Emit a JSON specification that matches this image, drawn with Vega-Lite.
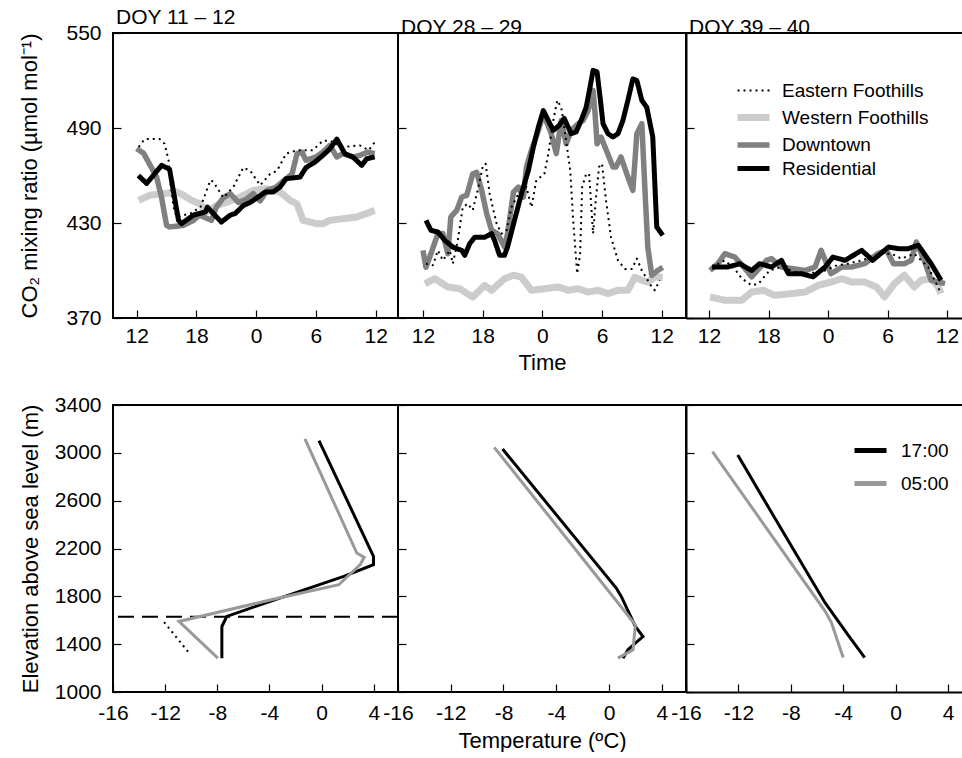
{
  "$schema": "https://vega.github.io/schema/vega-lite/v6.json",
  "padding": {"left": 17, "top": 6, "right": 0, "bottom": 0},
  "config": {
    "font": "Liberation Sans",
    "view": {"stroke": "black", "strokeWidth": 2},
    "axis": {"labelFont": "Liberation Sans", "labelFontSize": 21, "labelColor": "black", "tickColor": "black", "tickSize": -8, "tickWidth": 1.2, "domain": false, "grid": false, "labelPadding": 20, "titleFont": "Liberation Sans", "titleFontSize": 22, "titleFontWeight": "normal", "titleColor": "black", "labelFlush": false, "labelOverlap": false, "labelExpr": "'' + datum.value"},
    "axisX": {"labelPadding": 17},
    "legend": {"labelFont": "Liberation Sans", "labelFontSize": 19, "labelColor": "black", "padding": 0},
    "title": {"font": "Liberation Sans", "fontSize": 21, "fontWeight": "normal", "color": "black", "anchor": "start", "frame": "group", "offset": -6}
  },
  "datasets": {
    "co2": [
      {"panel":"A","site":"Western Foothills","hour":0.2,"co2":444.3},{"panel":"A","site":"Western Foothills","hour":1.3,"co2":447.5},{"panel":"A","site":"Western Foothills","hour":2.7,"co2":448.5},{"panel":"A","site":"Western Foothills","hour":4,"co2":449.6},{"panel":"A","site":"Western Foothills","hour":4.7,"co2":447.5},{"panel":"A","site":"Western Foothills","hour":5.5,"co2":444.3},{"panel":"A","site":"Western Foothills","hour":6.4,"co2":442},{"panel":"A","site":"Western Foothills","hour":7,"co2":437},{"panel":"A","site":"Western Foothills","hour":8,"co2":441},{"panel":"A","site":"Western Foothills","hour":9,"co2":443},{"panel":"A","site":"Western Foothills","hour":10.4,"co2":446.4},{"panel":"A","site":"Western Foothills","hour":11.7,"co2":450.6},{"panel":"A","site":"Western Foothills","hour":13,"co2":451.7},{"panel":"A","site":"Western Foothills","hour":14.4,"co2":449.6},{"panel":"A","site":"Western Foothills","hour":15.4,"co2":444.3},{"panel":"A","site":"Western Foothills","hour":16.1,"co2":442},{"panel":"A","site":"Western Foothills","hour":16.7,"co2":431.7},{"panel":"A","site":"Western Foothills","hour":18,"co2":429.6},{"panel":"A","site":"Western Foothills","hour":18.7,"co2":429.6},{"panel":"A","site":"Western Foothills","hour":19.4,"co2":431.7},{"panel":"A","site":"Western Foothills","hour":20.7,"co2":432.7},{"panel":"A","site":"Western Foothills","hour":22.1,"co2":433.8},{"panel":"A","site":"Western Foothills","hour":23.1,"co2":436},{"panel":"A","site":"Western Foothills","hour":23.9,"co2":438},
      {"panel":"A","site":"Downtown","hour":0,"co2":477},{"panel":"A","site":"Downtown","hour":0.7,"co2":474},{"panel":"A","site":"Downtown","hour":2,"co2":459},{"panel":"A","site":"Downtown","hour":2.5,"co2":446},{"panel":"A","site":"Downtown","hour":3,"co2":428.5},{"panel":"A","site":"Downtown","hour":3.3,"co2":427.5},{"panel":"A","site":"Downtown","hour":4.7,"co2":428.5},{"panel":"A","site":"Downtown","hour":5.7,"co2":431.7},{"panel":"A","site":"Downtown","hour":6.3,"co2":435},{"panel":"A","site":"Downtown","hour":7.5,"co2":431.7},{"panel":"A","site":"Downtown","hour":8,"co2":440},{"panel":"A","site":"Downtown","hour":8.7,"co2":446},{"panel":"A","site":"Downtown","hour":9.4,"co2":448.5},{"panel":"A","site":"Downtown","hour":10.2,"co2":443},{"panel":"A","site":"Downtown","hour":11,"co2":445},{"panel":"A","site":"Downtown","hour":11.7,"co2":448.5},{"panel":"A","site":"Downtown","hour":12.4,"co2":444},{"panel":"A","site":"Downtown","hour":13.1,"co2":450.6},{"panel":"A","site":"Downtown","hour":14,"co2":452.7},{"panel":"A","site":"Downtown","hour":15.6,"co2":461},{"panel":"A","site":"Downtown","hour":16.1,"co2":473.8},{"panel":"A","site":"Downtown","hour":16.6,"co2":474.8},{"panel":"A","site":"Downtown","hour":17,"co2":469.6},{"panel":"A","site":"Downtown","hour":18,"co2":471.7},{"panel":"A","site":"Downtown","hour":18.7,"co2":474.8},{"panel":"A","site":"Downtown","hour":19.4,"co2":479},{"panel":"A","site":"Downtown","hour":20.1,"co2":471.7},{"panel":"A","site":"Downtown","hour":20.7,"co2":473.8},{"panel":"A","site":"Downtown","hour":21.7,"co2":471.7},{"panel":"A","site":"Downtown","hour":22.4,"co2":472.7},{"panel":"A","site":"Downtown","hour":23.2,"co2":474.8},{"panel":"A","site":"Downtown","hour":23.9,"co2":473.8},
      {"panel":"A","site":"Eastern Foothills","hour":0.2,"co2":478},{"panel":"A","site":"Eastern Foothills","hour":0.8,"co2":483},{"panel":"A","site":"Eastern Foothills","hour":2.3,"co2":483},{"panel":"A","site":"Eastern Foothills","hour":2.8,"co2":480},{"panel":"A","site":"Eastern Foothills","hour":3.2,"co2":469.6},{"panel":"A","site":"Eastern Foothills","hour":3.35,"co2":457},{"panel":"A","site":"Eastern Foothills","hour":3.7,"co2":440},{"panel":"A","site":"Eastern Foothills","hour":4,"co2":433.8},{"panel":"A","site":"Eastern Foothills","hour":5.4,"co2":436},{"panel":"A","site":"Eastern Foothills","hour":6.4,"co2":440},{"panel":"A","site":"Eastern Foothills","hour":7.4,"co2":457},{"panel":"A","site":"Eastern Foothills","hour":7.7,"co2":456},{"panel":"A","site":"Eastern Foothills","hour":8.7,"co2":446},{"panel":"A","site":"Eastern Foothills","hour":9.7,"co2":452.7},{"panel":"A","site":"Eastern Foothills","hour":10.7,"co2":465},{"panel":"A","site":"Eastern Foothills","hour":11.4,"co2":463},{"panel":"A","site":"Eastern Foothills","hour":12.4,"co2":453.8},{"panel":"A","site":"Eastern Foothills","hour":13.4,"co2":461},{"panel":"A","site":"Eastern Foothills","hour":14.1,"co2":463},{"panel":"A","site":"Eastern Foothills","hour":15,"co2":473.8},{"panel":"A","site":"Eastern Foothills","hour":16.1,"co2":476},{"panel":"A","site":"Eastern Foothills","hour":17.7,"co2":476},{"panel":"A","site":"Eastern Foothills","hour":18.7,"co2":482},{"panel":"A","site":"Eastern Foothills","hour":19.4,"co2":482},{"panel":"A","site":"Eastern Foothills","hour":20.7,"co2":478},{"panel":"A","site":"Eastern Foothills","hour":22.4,"co2":479},{"panel":"A","site":"Eastern Foothills","hour":23.3,"co2":476},{"panel":"A","site":"Eastern Foothills","hour":23.9,"co2":481},
      {"panel":"A","site":"Residential","hour":0.17,"co2":460},{"panel":"A","site":"Residential","hour":1,"co2":455},{"panel":"A","site":"Residential","hour":2.5,"co2":466.4},{"panel":"A","site":"Residential","hour":3.3,"co2":464},{"panel":"A","site":"Residential","hour":4.2,"co2":431.7},{"panel":"A","site":"Residential","hour":4.5,"co2":429.6},{"panel":"A","site":"Residential","hour":5.7,"co2":435},{"panel":"A","site":"Residential","hour":6.9,"co2":437},{"panel":"A","site":"Residential","hour":7.1,"co2":440},{"panel":"A","site":"Residential","hour":8.5,"co2":430.6},{"panel":"A","site":"Residential","hour":9.4,"co2":435},{"panel":"A","site":"Residential","hour":9.9,"co2":436},{"panel":"A","site":"Residential","hour":10.7,"co2":441},{"panel":"A","site":"Residential","hour":11.4,"co2":443},{"panel":"A","site":"Residential","hour":12.1,"co2":446},{"panel":"A","site":"Residential","hour":12.9,"co2":449.6},{"panel":"A","site":"Residential","hour":13.7,"co2":449.6},{"panel":"A","site":"Residential","hour":14.4,"co2":452.7},{"panel":"A","site":"Residential","hour":15,"co2":458},{"panel":"A","site":"Residential","hour":16.4,"co2":459},{"panel":"A","site":"Residential","hour":17,"co2":465},{"panel":"A","site":"Residential","hour":17.9,"co2":468.5},{"panel":"A","site":"Residential","hour":18.7,"co2":472.7},{"panel":"A","site":"Residential","hour":19.4,"co2":476.8},{"panel":"A","site":"Residential","hour":20.1,"co2":483},{"panel":"A","site":"Residential","hour":20.9,"co2":473.8},{"panel":"A","site":"Residential","hour":21.7,"co2":471.7},{"panel":"A","site":"Residential","hour":22.6,"co2":466.4},{"panel":"A","site":"Residential","hour":23.1,"co2":470.6},{"panel":"A","site":"Residential","hour":23.9,"co2":471.7},

      {"panel":"B","site":"Western Foothills","hour":0.2,"co2":391.7},{"panel":"B","site":"Western Foothills","hour":1.2,"co2":394.8},{"panel":"B","site":"Western Foothills","hour":2.5,"co2":389.6},{"panel":"B","site":"Western Foothills","hour":3.7,"co2":388.5},{"panel":"B","site":"Western Foothills","hour":5,"co2":383.2},{"panel":"B","site":"Western Foothills","hour":6.2,"co2":390.6},{"panel":"B","site":"Western Foothills","hour":6.9,"co2":387.5},{"panel":"B","site":"Western Foothills","hour":8.2,"co2":394.8},{"panel":"B","site":"Western Foothills","hour":9.1,"co2":397},{"panel":"B","site":"Western Foothills","hour":9.9,"co2":395.8},{"panel":"B","site":"Western Foothills","hour":10.9,"co2":387.5},{"panel":"B","site":"Western Foothills","hour":12.2,"co2":388.5},{"panel":"B","site":"Western Foothills","hour":13.6,"co2":389.6},{"panel":"B","site":"Western Foothills","hour":14.6,"co2":387.5},{"panel":"B","site":"Western Foothills","hour":15.6,"co2":388.5},{"panel":"B","site":"Western Foothills","hour":16.6,"co2":386.4},{"panel":"B","site":"Western Foothills","hour":17.6,"co2":387.5},{"panel":"B","site":"Western Foothills","hour":18.6,"co2":385.4},{"panel":"B","site":"Western Foothills","hour":19.6,"co2":387.5},{"panel":"B","site":"Western Foothills","hour":20.6,"co2":387.5},{"panel":"B","site":"Western Foothills","hour":21.3,"co2":395.8},{"panel":"B","site":"Western Foothills","hour":22,"co2":393.8},{"panel":"B","site":"Western Foothills","hour":22.6,"co2":392.7},{"panel":"B","site":"Western Foothills","hour":23.3,"co2":395.8},{"panel":"B","site":"Western Foothills","hour":24.1,"co2":395.8},
      {"panel":"B","site":"Downtown","hour":0,"co2":412.7},{"panel":"B","site":"Downtown","hour":0.3,"co2":402},{"panel":"B","site":"Downtown","hour":0.8,"co2":410.6},{"panel":"B","site":"Downtown","hour":1.5,"co2":423.3},{"panel":"B","site":"Downtown","hour":2,"co2":423.3},{"panel":"B","site":"Downtown","hour":2.5,"co2":410.6},{"panel":"B","site":"Downtown","hour":2.8,"co2":433.8},{"panel":"B","site":"Downtown","hour":3.4,"co2":438},{"panel":"B","site":"Downtown","hour":3.9,"co2":446.4},{"panel":"B","site":"Downtown","hour":4.4,"co2":447.5},{"panel":"B","site":"Downtown","hour":5,"co2":461},{"panel":"B","site":"Downtown","hour":5.4,"co2":462},{"panel":"B","site":"Downtown","hour":5.9,"co2":450.6},{"panel":"B","site":"Downtown","hour":6.4,"co2":436},{"panel":"B","site":"Downtown","hour":6.9,"co2":425.4},{"panel":"B","site":"Downtown","hour":7.5,"co2":423.3},{"panel":"B","site":"Downtown","hour":8.2,"co2":414.8},{"panel":"B","site":"Downtown","hour":8.5,"co2":423.3},{"panel":"B","site":"Downtown","hour":9.1,"co2":449.6},{"panel":"B","site":"Downtown","hour":9.6,"co2":452.7},{"panel":"B","site":"Downtown","hour":10.1,"co2":446.4},{"panel":"B","site":"Downtown","hour":10.4,"co2":465.4},{"panel":"B","site":"Downtown","hour":10.9,"co2":475.9},{"panel":"B","site":"Downtown","hour":11.6,"co2":488.5},{"panel":"B","site":"Downtown","hour":12.1,"co2":499},{"panel":"B","site":"Downtown","hour":12.9,"co2":486.4},{"panel":"B","site":"Downtown","hour":13.4,"co2":473.8},{"panel":"B","site":"Downtown","hour":13.9,"co2":494.8},{"panel":"B","site":"Downtown","hour":14.4,"co2":480},{"panel":"B","site":"Downtown","hour":14.9,"co2":488.5},{"panel":"B","site":"Downtown","hour":15.6,"co2":492.7},{"panel":"B","site":"Downtown","hour":16.1,"co2":494.8},{"panel":"B","site":"Downtown","hour":16.6,"co2":501},{"panel":"B","site":"Downtown","hour":17.1,"co2":513.8},{"panel":"B","site":"Downtown","hour":17.3,"co2":499},{"panel":"B","site":"Downtown","hour":17.5,"co2":480},{"panel":"B","site":"Downtown","hour":17.9,"co2":484.3},{"panel":"B","site":"Downtown","hour":19.1,"co2":465.4},{"panel":"B","site":"Downtown","hour":19.4,"co2":465.4},{"panel":"B","site":"Downtown","hour":19.9,"co2":471.7},{"panel":"B","site":"Downtown","hour":20.6,"co2":459},{"panel":"B","site":"Downtown","hour":21.1,"co2":450.6},{"panel":"B","site":"Downtown","hour":21.5,"co2":486.4},{"panel":"B","site":"Downtown","hour":22,"co2":492.7},{"panel":"B","site":"Downtown","hour":22.3,"co2":452.7},{"panel":"B","site":"Downtown","hour":22.6,"co2":414.8},{"panel":"B","site":"Downtown","hour":23,"co2":397},{"panel":"B","site":"Downtown","hour":23.6,"co2":400},{"panel":"B","site":"Downtown","hour":24.1,"co2":402},
      {"panel":"B","site":"Eastern Foothills","hour":0.3,"co2":404.3},{"panel":"B","site":"Eastern Foothills","hour":1,"co2":403.3},{"panel":"B","site":"Eastern Foothills","hour":1.5,"co2":412.7},{"panel":"B","site":"Eastern Foothills","hour":2,"co2":406.4},{"panel":"B","site":"Eastern Foothills","hour":2.7,"co2":412.7},{"panel":"B","site":"Eastern Foothills","hour":3,"co2":404.3},{"panel":"B","site":"Eastern Foothills","hour":3.5,"co2":419},{"panel":"B","site":"Eastern Foothills","hour":4,"co2":440},{"panel":"B","site":"Eastern Foothills","hour":4.5,"co2":442.2},{"panel":"B","site":"Eastern Foothills","hour":5,"co2":438},{"panel":"B","site":"Eastern Foothills","hour":5.5,"co2":450.6},{"panel":"B","site":"Eastern Foothills","hour":6,"co2":465.4},{"panel":"B","site":"Eastern Foothills","hour":6.3,"co2":467.5},{"panel":"B","site":"Eastern Foothills","hour":6.7,"co2":448.5},{"panel":"B","site":"Eastern Foothills","hour":7.4,"co2":429.6},{"panel":"B","site":"Eastern Foothills","hour":7.9,"co2":423.3},{"panel":"B","site":"Eastern Foothills","hour":8.4,"co2":425.4},{"panel":"B","site":"Eastern Foothills","hour":8.9,"co2":440},{"panel":"B","site":"Eastern Foothills","hour":9.6,"co2":448.5},{"panel":"B","site":"Eastern Foothills","hour":10.4,"co2":452.7},{"panel":"B","site":"Eastern Foothills","hour":10.9,"co2":440},{"panel":"B","site":"Eastern Foothills","hour":11.4,"co2":457},{"panel":"B","site":"Eastern Foothills","hour":12.2,"co2":461},{"panel":"B","site":"Eastern Foothills","hour":12.6,"co2":473.8},{"panel":"B","site":"Eastern Foothills","hour":13.1,"co2":494.8},{"panel":"B","site":"Eastern Foothills","hour":13.5,"co2":507.5},{"panel":"B","site":"Eastern Foothills","hour":13.9,"co2":503},{"panel":"B","site":"Eastern Foothills","hour":14.2,"co2":490.6},{"panel":"B","site":"Eastern Foothills","hour":14.8,"co2":463.3},{"panel":"B","site":"Eastern Foothills","hour":15.1,"co2":431.7},{"panel":"B","site":"Eastern Foothills","hour":15.5,"co2":398},{"panel":"B","site":"Eastern Foothills","hour":15.8,"co2":410.6},{"panel":"B","site":"Eastern Foothills","hour":16,"co2":452.7},{"panel":"B","site":"Eastern Foothills","hour":16.4,"co2":461},{"panel":"B","site":"Eastern Foothills","hour":16.7,"co2":461},{"panel":"B","site":"Eastern Foothills","hour":16.9,"co2":442.2},{"panel":"B","site":"Eastern Foothills","hour":17.1,"co2":423.3},{"panel":"B","site":"Eastern Foothills","hour":17.4,"co2":446.4},{"panel":"B","site":"Eastern Foothills","hour":17.7,"co2":465.4},{"panel":"B","site":"Eastern Foothills","hour":18,"co2":467.5},{"panel":"B","site":"Eastern Foothills","hour":18.4,"co2":444.3},{"panel":"B","site":"Eastern Foothills","hour":18.9,"co2":421},{"panel":"B","site":"Eastern Foothills","hour":19.6,"co2":406.4},{"panel":"B","site":"Eastern Foothills","hour":20.3,"co2":401},{"panel":"B","site":"Eastern Foothills","hour":21,"co2":401},{"panel":"B","site":"Eastern Foothills","hour":21.5,"co2":407.5},{"panel":"B","site":"Eastern Foothills","hour":22,"co2":400},{"panel":"B","site":"Eastern Foothills","hour":23,"co2":389.6},{"panel":"B","site":"Eastern Foothills","hour":23.3,"co2":387.5},{"panel":"B","site":"Eastern Foothills","hour":23.8,"co2":393.8},
      {"panel":"B","site":"Residential","hour":0.3,"co2":431.7},{"panel":"B","site":"Residential","hour":0.8,"co2":425.4},{"panel":"B","site":"Residential","hour":1.5,"co2":424.3},{"panel":"B","site":"Residential","hour":2.2,"co2":419},{"panel":"B","site":"Residential","hour":3,"co2":414.8},{"panel":"B","site":"Residential","hour":3.9,"co2":412.7},{"panel":"B","site":"Residential","hour":4.2,"co2":409.6},{"panel":"B","site":"Residential","hour":4.7,"co2":417},{"panel":"B","site":"Residential","hour":5.2,"co2":421},{"panel":"B","site":"Residential","hour":6.2,"co2":421},{"panel":"B","site":"Residential","hour":6.9,"co2":423.3},{"panel":"B","site":"Residential","hour":7.2,"co2":419},{"panel":"B","site":"Residential","hour":7.7,"co2":409.6},{"panel":"B","site":"Residential","hour":8.2,"co2":409.6},{"panel":"B","site":"Residential","hour":8.5,"co2":414.8},{"panel":"B","site":"Residential","hour":9.2,"co2":431.7},{"panel":"B","site":"Residential","hour":9.9,"co2":448.5},{"panel":"B","site":"Residential","hour":10.6,"co2":463.3},{"panel":"B","site":"Residential","hour":11.1,"co2":478},{"panel":"B","site":"Residential","hour":11.6,"co2":490.6},{"panel":"B","site":"Residential","hour":12.1,"co2":501},{"panel":"B","site":"Residential","hour":12.6,"co2":494.7},{"panel":"B","site":"Residential","hour":13.1,"co2":488.5},{"panel":"B","site":"Residential","hour":13.7,"co2":491.7},{"panel":"B","site":"Residential","hour":14.2,"co2":496},{"panel":"B","site":"Residential","hour":14.9,"co2":486.4},{"panel":"B","site":"Residential","hour":15.4,"co2":487.5},{"panel":"B","site":"Residential","hour":15.9,"co2":494.8},{"panel":"B","site":"Residential","hour":16.4,"co2":503},{"panel":"B","site":"Residential","hour":16.8,"co2":516},{"panel":"B","site":"Residential","hour":17.1,"co2":526.4},{"panel":"B","site":"Residential","hour":17.5,"co2":525.4},{"panel":"B","site":"Residential","hour":17.8,"co2":509.6},{"panel":"B","site":"Residential","hour":18.1,"co2":492.7},{"panel":"B","site":"Residential","hour":18.6,"co2":486.4},{"panel":"B","site":"Residential","hour":19.1,"co2":484.3},{"panel":"B","site":"Residential","hour":19.6,"co2":486.4},{"panel":"B","site":"Residential","hour":20.1,"co2":494.8},{"panel":"B","site":"Residential","hour":20.6,"co2":507.5},{"panel":"B","site":"Residential","hour":21.1,"co2":521},{"panel":"B","site":"Residential","hour":21.5,"co2":520},{"panel":"B","site":"Residential","hour":22,"co2":507.5},{"panel":"B","site":"Residential","hour":22.5,"co2":503},{"panel":"B","site":"Residential","hour":23.1,"co2":484.3},{"panel":"B","site":"Residential","hour":23.5,"co2":427.5},{"panel":"B","site":"Residential","hour":24.1,"co2":422.2},

      {"panel":"C","site":"Western Foothills","hour":0.1,"co2":383.3},{"panel":"C","site":"Western Foothills","hour":1.6,"co2":381.2},{"panel":"C","site":"Western Foothills","hour":3.3,"co2":381.2},{"panel":"C","site":"Western Foothills","hour":4.3,"co2":386.4},{"panel":"C","site":"Western Foothills","hour":5.5,"co2":387.5},{"panel":"C","site":"Western Foothills","hour":6.6,"co2":384.3},{"panel":"C","site":"Western Foothills","hour":8.3,"co2":385.4},{"panel":"C","site":"Western Foothills","hour":9.7,"co2":386.4},{"panel":"C","site":"Western Foothills","hour":11,"co2":390.6},{"panel":"C","site":"Western Foothills","hour":12.3,"co2":392.7},{"panel":"C","site":"Western Foothills","hour":13.4,"co2":394.8},{"panel":"C","site":"Western Foothills","hour":14.4,"co2":392.7},{"panel":"C","site":"Western Foothills","hour":15.7,"co2":392.7},{"panel":"C","site":"Western Foothills","hour":16.9,"co2":389.6},{"panel":"C","site":"Western Foothills","hour":17.7,"co2":383.3},{"panel":"C","site":"Western Foothills","hour":18.7,"co2":391.7},{"panel":"C","site":"Western Foothills","hour":19.7,"co2":397},{"panel":"C","site":"Western Foothills","hour":20.7,"co2":389.6},{"panel":"C","site":"Western Foothills","hour":21.4,"co2":393.8},{"panel":"C","site":"Western Foothills","hour":22.4,"co2":394.8},{"panel":"C","site":"Western Foothills","hour":23.1,"co2":389.6},{"panel":"C","site":"Western Foothills","hour":23.4,"co2":385.4},
      {"panel":"C","site":"Downtown","hour":0.1,"co2":400},{"panel":"C","site":"Downtown","hour":0.9,"co2":404.3},{"panel":"C","site":"Downtown","hour":1.6,"co2":410.6},{"panel":"C","site":"Downtown","hour":2.6,"co2":408.5},{"panel":"C","site":"Downtown","hour":3.5,"co2":402.2},{"panel":"C","site":"Downtown","hour":4.3,"co2":396},{"panel":"C","site":"Downtown","hour":5.8,"co2":406.4},{"panel":"C","site":"Downtown","hour":6.3,"co2":407.5},{"panel":"C","site":"Downtown","hour":7.3,"co2":402.2},{"panel":"C","site":"Downtown","hour":9.7,"co2":400},{"panel":"C","site":"Downtown","hour":10.7,"co2":402.2},{"panel":"C","site":"Downtown","hour":11.3,"co2":412.7},{"panel":"C","site":"Downtown","hour":12.3,"co2":398},{"panel":"C","site":"Downtown","hour":13.4,"co2":402.2},{"panel":"C","site":"Downtown","hour":14.4,"co2":402.2},{"panel":"C","site":"Downtown","hour":15.7,"co2":404.3},{"panel":"C","site":"Downtown","hour":17,"co2":410.6},{"panel":"C","site":"Downtown","hour":17.9,"co2":412.7},{"panel":"C","site":"Downtown","hour":18.6,"co2":404.3},{"panel":"C","site":"Downtown","hour":19.7,"co2":404.3},{"panel":"C","site":"Downtown","hour":20.4,"co2":406.4},{"panel":"C","site":"Downtown","hour":20.9,"co2":418},{"panel":"C","site":"Downtown","hour":21.7,"co2":406.4},{"panel":"C","site":"Downtown","hour":22.4,"co2":393.8},{"panel":"C","site":"Downtown","hour":23.8,"co2":391.7},
      {"panel":"C","site":"Eastern Foothills","hour":0.3,"co2":402.2},{"panel":"C","site":"Eastern Foothills","hour":1.6,"co2":406.4},{"panel":"C","site":"Eastern Foothills","hour":2.6,"co2":401},{"panel":"C","site":"Eastern Foothills","hour":3.3,"co2":395},{"panel":"C","site":"Eastern Foothills","hour":4.3,"co2":390.6},{"panel":"C","site":"Eastern Foothills","hour":5,"co2":391.7},{"panel":"C","site":"Eastern Foothills","hour":6.1,"co2":400},{"panel":"C","site":"Eastern Foothills","hour":7.3,"co2":402.2},{"panel":"C","site":"Eastern Foothills","hour":8.7,"co2":399},{"panel":"C","site":"Eastern Foothills","hour":10,"co2":398},{"panel":"C","site":"Eastern Foothills","hour":11.7,"co2":400},{"panel":"C","site":"Eastern Foothills","hour":12.9,"co2":403.3},{"panel":"C","site":"Eastern Foothills","hour":14,"co2":404.3},{"panel":"C","site":"Eastern Foothills","hour":15.4,"co2":406.4},{"panel":"C","site":"Eastern Foothills","hour":17.4,"co2":410.6},{"panel":"C","site":"Eastern Foothills","hour":18.4,"co2":410.6},{"panel":"C","site":"Eastern Foothills","hour":19.4,"co2":407.5},{"panel":"C","site":"Eastern Foothills","hour":20.7,"co2":410.6},{"panel":"C","site":"Eastern Foothills","hour":22.1,"co2":402.2},{"panel":"C","site":"Eastern Foothills","hour":23.4,"co2":385.4},
      {"panel":"C","site":"Residential","hour":0.3,"co2":402.2},{"panel":"C","site":"Residential","hour":1.9,"co2":402.2},{"panel":"C","site":"Residential","hour":3.1,"co2":404.3},{"panel":"C","site":"Residential","hour":4.3,"co2":400},{"panel":"C","site":"Residential","hour":5.1,"co2":404.3},{"panel":"C","site":"Residential","hour":6.3,"co2":402.2},{"panel":"C","site":"Residential","hour":7.3,"co2":406.4},{"panel":"C","site":"Residential","hour":8,"co2":398},{"panel":"C","site":"Residential","hour":9.3,"co2":398},{"panel":"C","site":"Residential","hour":10.5,"co2":396},{"panel":"C","site":"Residential","hour":11.7,"co2":402.2},{"panel":"C","site":"Residential","hour":12.5,"co2":408.5},{"panel":"C","site":"Residential","hour":13.7,"co2":406.4},{"panel":"C","site":"Residential","hour":15.4,"co2":412.7},{"panel":"C","site":"Residential","hour":16.5,"co2":406.4},{"panel":"C","site":"Residential","hour":18.1,"co2":414.8},{"panel":"C","site":"Residential","hour":19.1,"co2":413.8},{"panel":"C","site":"Residential","hour":20.1,"co2":413.8},{"panel":"C","site":"Residential","hour":21.1,"co2":416},{"panel":"C","site":"Residential","hour":22.4,"co2":404.3},{"panel":"C","site":"Residential","hour":23.4,"co2":393.8}
    ],
    "temp": [
      {"panel":"A","time":"17:00","i":1,"t":-0.2,"elev":3103},{"panel":"A","time":"17:00","i":2,"t":3.98,"elev":2134},{"panel":"A","time":"17:00","i":3,"t":3.98,"elev":2065},{"panel":"A","time":"17:00","i":4,"t":1.7,"elev":1967},{"panel":"A","time":"17:00","i":5,"t":-3.6,"elev":1771},{"panel":"A","time":"17:00","i":6,"t":-7.27,"elev":1632},{"panel":"A","time":"17:00","i":7,"t":-7.65,"elev":1548},{"panel":"A","time":"17:00","i":8,"t":-7.65,"elev":1283},
      {"panel":"A","time":"05:00","i":1,"t":-1.28,"elev":3117},{"panel":"A","time":"05:00","i":2,"t":2.7,"elev":2162},{"panel":"A","time":"05:00","i":3,"t":3.27,"elev":2126},{"panel":"A","time":"05:00","i":4,"t":2.96,"elev":2065},{"panel":"A","time":"05:00","i":5,"t":1.32,"elev":1897},{"panel":"A","time":"05:00","i":6,"t":-3.86,"elev":1771},{"panel":"A","time":"05:00","i":7,"t":-10.94,"elev":1590},{"panel":"A","time":"05:00","i":8,"t":-7.96,"elev":1283},
      {"panel":"B","time":"17:00","i":1,"t":-8.07,"elev":3032},{"panel":"B","time":"17:00","i":2,"t":0.55,"elev":1869},{"panel":"B","time":"17:00","i":3,"t":0.93,"elev":1799},{"panel":"B","time":"17:00","i":4,"t":2,"elev":1548},{"panel":"B","time":"17:00","i":5,"t":2.58,"elev":1464},{"panel":"B","time":"17:00","i":6,"t":2,"elev":1408},{"panel":"B","time":"17:00","i":7,"t":1.44,"elev":1353},{"panel":"B","time":"17:00","i":8,"t":1.06,"elev":1283},
      {"panel":"B","time":"05:00","i":1,"t":-8.7,"elev":3046},{"panel":"B","time":"05:00","i":2,"t":1.7,"elev":1604},{"panel":"B","time":"05:00","i":3,"t":2,"elev":1562},{"panel":"B","time":"05:00","i":4,"t":1.82,"elev":1353},{"panel":"B","time":"05:00","i":5,"t":0.68,"elev":1283},
      {"panel":"C","time":"17:00","i":1,"t":-12.05,"elev":2982},{"panel":"C","time":"17:00","i":2,"t":-8.95,"elev":2404},{"panel":"C","time":"17:00","i":3,"t":-5.4,"elev":1749},{"panel":"C","time":"17:00","i":4,"t":-3.62,"elev":1475},{"panel":"C","time":"17:00","i":5,"t":-2.36,"elev":1288},
      {"panel":"C","time":"05:00","i":1,"t":-13.98,"elev":3010},{"panel":"C","time":"05:00","i":2,"t":-5.4,"elev":1679},{"panel":"C","time":"05:00","i":3,"t":-4.9,"elev":1581},{"panel":"C","time":"05:00","i":4,"t":-4.39,"elev":1414},{"panel":"C","time":"05:00","i":5,"t":-4,"elev":1288}
    ],
    "dotted": [
      {"i":1,"t":-12.08,"elev":1584},{"i":2,"t":-10.05,"elev":1311}
    ],
    "mixing": [{"elev":1630}]
  },
  "vconcat": [
    {
      "hconcat": [
        {
          "width": 285, "height": 285,
          "title": {"text": "DOY 11 – 12", "dx": 3},
          "data": {"name": "co2"},
          "transform": [{"filter": "datum.panel == 'A'"}],
          "mark": {"type": "line", "strokeJoin": "round"},
          "encoding": {
            "x": {"field": "hour", "type": "quantitative", "scale": {"domain": [-2.38, 26.24], "nice": false, "zero": false}, "axis": {"values": [0, 6, 12, 18, 24], "labelExpr": "'' + ((datum.value + 12) % 24)", "title": null, "labelPadding": 15}},
            "y": {"field": "co2", "type": "quantitative", "scale": {"domain": [370, 550], "nice": false, "zero": false}, "axis": {"values": [370, 430, 490, 550], "title": "CO₂ mixing ratio (µmol mol⁻¹)", "titlePadding": 24}},
            "color": {"field": "site", "type": "nominal", "scale": {"domain": ["Eastern Foothills", "Western Foothills", "Downtown", "Residential"], "range": ["black", "#cccccc", "#808080", "black"]}, "legend": null},
            "strokeWidth": {"field": "site", "type": "nominal", "scale": {"type": "ordinal", "domain": ["Eastern Foothills", "Western Foothills", "Downtown", "Residential"], "range": [2, 7, 5.5, 5]}, "legend": null},
            "strokeDash": {"field": "site", "type": "nominal", "scale": {"domain": ["Eastern Foothills", "Western Foothills", "Downtown", "Residential"], "range": [[2, 4], [1, 0], [1, 0], [1, 0]]}, "legend": null}
          }
        },
        {
          "width": 288, "height": 285,
          "title": {"text": "DOY 28 – 29", "dx": 3},
          "data": {"name": "co2"},
          "transform": [{"filter": "datum.panel == 'B'"}],
          "mark": {"type": "line", "strokeJoin": "round"},
          "encoding": {
            "x": {"field": "hour", "type": "quantitative", "scale": {"domain": [-2.51, 26.44], "nice": false, "zero": false}, "axis": {"values": [0, 6, 12, 18, 24], "labelExpr": "'' + ((datum.value + 12) % 24)", "title": "Time", "titlePadding": 6, "labelPadding": 15}},
            "y": {"field": "co2", "type": "quantitative", "scale": {"domain": [370, 550], "nice": false, "zero": false}, "axis": {"values": [370, 430, 490, 550], "labels": false, "title": null}},
            "color": {"field": "site", "type": "nominal", "scale": {"domain": ["Eastern Foothills", "Western Foothills", "Downtown", "Residential"], "range": ["black", "#cccccc", "#808080", "black"]}, "legend": null},
            "strokeWidth": {"field": "site", "type": "nominal", "scale": {"type": "ordinal", "domain": ["Eastern Foothills", "Western Foothills", "Downtown", "Residential"], "range": [2, 7, 5.5, 5]}, "legend": null},
            "strokeDash": {"field": "site", "type": "nominal", "scale": {"domain": ["Eastern Foothills", "Western Foothills", "Downtown", "Residential"], "range": [[2, 4], [1, 0], [1, 0], [1, 0]]}, "legend": null}
          }
        },
        {
          "width": 276, "height": 285,
          "title": {"text": "DOY 39 – 40", "dx": 3},
          "view": {"stroke": null},
          "layer": [
            {
              "data": {"name": "co2"},
              "transform": [{"filter": "datum.panel == 'C'"}],
              "mark": {"type": "line", "strokeJoin": "round"},
              "encoding": {
                "x": {"field": "hour", "type": "quantitative", "scale": {"domain": [-2.32, 25.51], "nice": false, "zero": false}, "axis": {"values": [0, 6, 12, 18, 24], "labelExpr": "'' + ((datum.value + 12) % 24)", "title": null, "labelPadding": 15, "domain": true, "domainColor": "black", "domainWidth": 2}},
                "y": {"field": "co2", "type": "quantitative", "scale": {"domain": [370, 550], "nice": false, "zero": false}, "axis": {"values": [370, 430, 490, 550], "labels": false, "title": null, "domain": true, "domainColor": "black", "domainWidth": 2}},
                "color": {"field": "site", "type": "nominal", "scale": {"domain": ["Eastern Foothills", "Western Foothills", "Downtown", "Residential"], "range": ["black", "#cccccc", "#808080", "black"]}, "legend": {"title": null, "orient": "none", "legendX": 56, "legendY": 48, "symbolType": "M-2,0H2", "symbolSize": 256, "labelOffset": 17, "rowPadding": 2}},
                "strokeWidth": {"field": "site", "type": "nominal", "scale": {"type": "ordinal", "domain": ["Eastern Foothills", "Western Foothills", "Downtown", "Residential"], "range": [2, 7, 5.5, 5]}, "legend": {"title": null, "orient": "none", "legendX": 56, "legendY": 48, "symbolType": "M-2,0H2", "symbolSize": 256, "labelOffset": 17, "rowPadding": 2}},
                "strokeDash": {"field": "site", "type": "nominal", "scale": {"domain": ["Eastern Foothills", "Western Foothills", "Downtown", "Residential"], "range": [[2, 4], [1, 0], [1, 0], [1, 0]]}, "legend": {"title": null, "orient": "none", "legendX": 56, "legendY": 48, "symbolType": "M-2,0H2", "symbolSize": 256, "labelOffset": 17, "rowPadding": 2}}
              }
            },
            {
              "data": {"values": [{"top": 550}]},
              "mark": {"type": "rule", "color": "black", "strokeWidth": 2},
              "encoding": {"y": {"field": "top", "type": "quantitative"}}
            }
          ]
        }
      ],
      "spacing": 0,
      "bounds": "flush",
      "resolve": {"scale": {"color": "independent", "strokeWidth": "independent", "strokeDash": "independent", "x": "independent", "y": "independent"}, "legend": {"color": "independent", "strokeWidth": "independent", "strokeDash": "independent"}}
    },
    {
      "hconcat": [
        {
          "width": 285, "height": 287,
          "layer": [
            {
              "data": {"name": "mixing"},
              "mark": {"type": "rule", "color": "black", "strokeWidth": 2, "strokeDash": [16, 8]},
              "encoding": {"y": {"field": "elev", "type": "quantitative"}}
            },
            {
              "data": {"name": "dotted"},
              "mark": {"type": "line", "color": "black", "strokeWidth": 2, "strokeDash": [2, 4]},
              "encoding": {"x": {"field": "t", "type": "quantitative"}, "y": {"field": "elev", "type": "quantitative"}, "order": {"field": "i"}}
            },
            {
              "data": {"name": "temp"},
              "transform": [{"filter": "datum.panel == 'A'"}],
              "mark": {"type": "line", "strokeWidth": 3},
              "encoding": {
                "x": {"field": "t", "type": "quantitative", "scale": {"domain": [-16, 5.86], "nice": false, "zero": false}, "axis": {"values": [-16, -12, -8, -4, 0, 4], "title": null, "labelPadding": 18}},
                "y": {"field": "elev", "type": "quantitative", "scale": {"domain": [1000, 3400], "nice": false, "zero": false}, "axis": {"values": [1000, 1400, 1800, 2200, 2600, 3000, 3400], "title": "Elevation above sea level (m)", "titlePadding": 12}},
                "order": {"field": "i"},
                "color": {"field": "time", "type": "nominal", "scale": {"domain": ["17:00", "05:00"], "range": ["black", "#999999"]}, "legend": null}
              }
            }
          ]
        },
        {
          "width": 288, "height": 287,
          "data": {"name": "temp"},
          "transform": [{"filter": "datum.panel == 'B'"}],
          "mark": {"type": "line", "strokeWidth": 3},
          "encoding": {
            "x": {"field": "t", "type": "quantitative", "scale": {"domain": [-16, 5.84], "nice": false, "zero": false}, "axis": {"values": [-16, -12, -8, -4, 0, 4], "title": "Temperature (ºC)", "titlePadding": 7, "labelPadding": 18}},
            "y": {"field": "elev", "type": "quantitative", "scale": {"domain": [1000, 3400], "nice": false, "zero": false}, "axis": {"values": [1000, 1400, 1800, 2200, 2600, 3000, 3400], "labels": false, "title": null}},
            "order": {"field": "i"},
            "color": {"field": "time", "type": "nominal", "scale": {"domain": ["17:00", "05:00"], "range": ["black", "#999999"]}, "legend": null}
          }
        },
        {
          "width": 276, "height": 287,
          "view": {"stroke": null},
          "layer": [
            {
              "data": {"name": "temp"},
              "transform": [{"filter": "datum.panel == 'C'"}],
              "mark": {"type": "line", "strokeWidth": 3},
              "encoding": {
                "x": {"field": "t", "type": "quantitative", "scale": {"domain": [-16, 5.07], "nice": false, "zero": false}, "axis": {"values": [-16, -12, -8, -4, 0, 4], "title": null, "labelPadding": 18, "domain": true, "domainColor": "black", "domainWidth": 2}},
                "y": {"field": "elev", "type": "quantitative", "scale": {"domain": [1000, 3400], "nice": false, "zero": false}, "axis": {"values": [1000, 1400, 1800, 2200, 2600, 3000, 3400], "labels": false, "title": null, "domain": true, "domainColor": "black", "domainWidth": 2}},
                "order": {"field": "i"},
                "color": {"field": "time", "type": "nominal", "scale": {"domain": ["17:00", "05:00"], "range": ["black", "#999999"]}, "legend": {"title": null, "orient": "none", "legendX": 166, "legendY": 27, "symbolSize": 1024, "symbolStrokeWidth": 5, "labelOffset": 12, "rowPadding": 4}}
              }
            },
            {
              "data": {"values": [{"top": 3400}]},
              "mark": {"type": "rule", "color": "black", "strokeWidth": 2},
              "encoding": {"y": {"field": "top", "type": "quantitative"}}
            }
          ]
        }
      ],
      "spacing": 0,
      "bounds": "flush",
      "resolve": {"scale": {"color": "independent", "x": "independent", "y": "independent"}, "legend": {"color": "independent"}}
    }
  ],
  "spacing": 19
}
